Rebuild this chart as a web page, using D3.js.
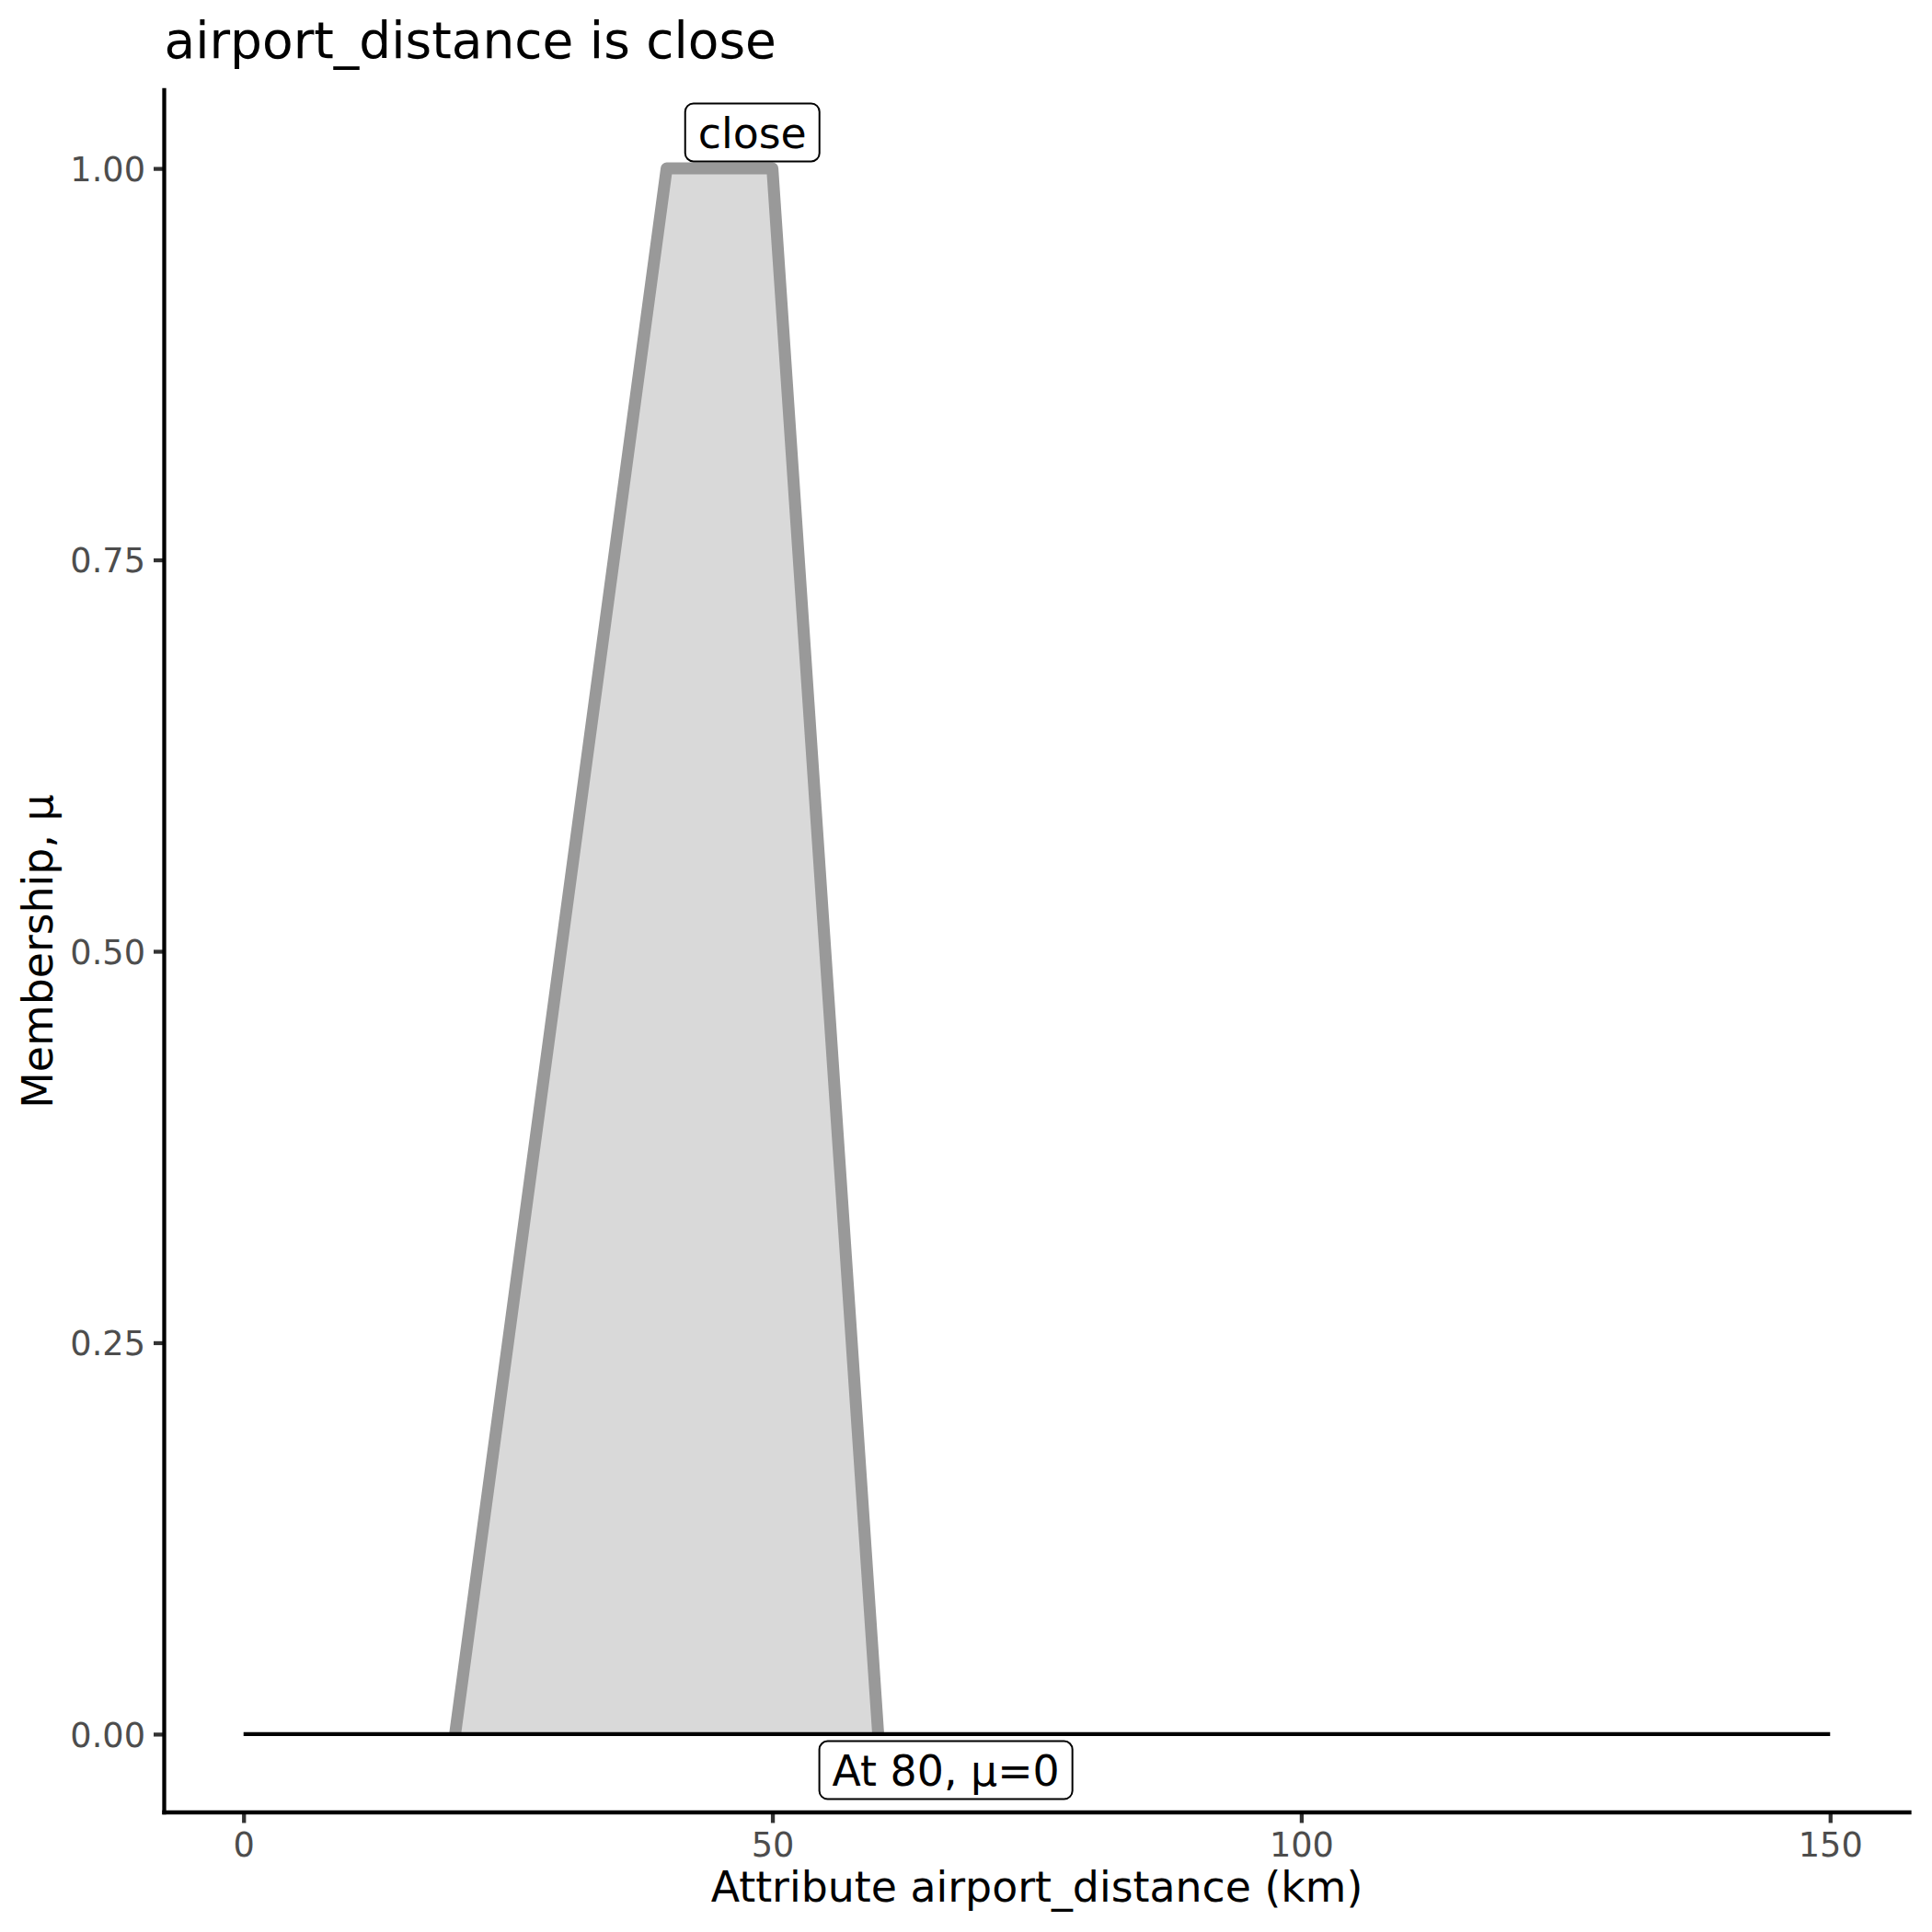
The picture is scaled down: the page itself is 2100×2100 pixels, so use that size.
<!DOCTYPE html>
<html>
<head>
<meta charset="utf-8">
<script src="https://cdn.jsdelivr.net/npm/d3@7"></script>
<style>
  html, body { margin: 0; padding: 0; background: #fff; }
  svg { display: block; font-family: "DejaVu Sans", sans-serif; }
</style>
</head>
<body>
<svg id="chart" width="2100" height="2100"></svg>
<script>
// ---- data ----
const titleText = "airport_distance is close";
const xTitle = "Attribute airport_distance (km)";
const yTitle = "Membership, \u03bc";
const setX = [20, 40, 50, 60];      // trapezoid corners (km)
const setMu = [0, 1, 1, 0];          // membership at corners
const baseX = [0, 150];              // universe of discourse
const baseMu = [0, 0];
const xTicks = [0, 50, 100, 150];
const yTicks = [0, 0.25, 0.5, 0.75, 1];
const yTickLabels = ["0.00", "0.25", "0.50", "0.75", "1.00"];
const labelTexts = ["close", "At 80, \u03bc=0"];
const labelX = [48.1, 66.4];        // label centres (data units)
const labelY = [1.023, -0.023];

// ---- layout ----
const W = 2100, H = 2100;
const panel = { left: 178.5, right: 2075.5, top: 98, bottom: 1970 };
const svg = d3.select("#chart");

const xMin = 0, xMax = 150, yMin = 0, yMax = 1;
const xPad = (xMax - xMin) * 0.05, yPad = (yMax - yMin) * 0.05;
const x = d3.scaleLinear().domain([xMin - xPad, xMax + xPad]).range([panel.left, panel.right]);
const y = d3.scaleLinear().domain([yMin - yPad, yMax + yPad]).range([panel.bottom, panel.top]);

// ---- membership shape ----
const pts = setX.map((v, i) => [v, setMu[i]]);
const area = d3.area().x(d => x(d[0])).y0(y(0)).y1(d => y(d[1]));
svg.append("path").datum(pts).attr("d", area).attr("fill", "#D9D9D9").attr("stroke", "none");
const line = d3.line().x(d => x(d[0])).y(d => y(d[1]));
svg.append("path").datum(pts).attr("d", line)
  .attr("fill", "none").attr("stroke", "#999999").attr("stroke-width", 13)
  .attr("stroke-linejoin", "round").attr("stroke-linecap", "butt");

// baseline
const bpts = baseX.map((v, i) => [v, baseMu[i]]);
svg.append("path").datum(bpts).attr("d", line)
  .attr("fill", "none").attr("stroke", "#000").attr("stroke-width", 4.3);

// ---- axes ----
const tickLen = 11.5;
const xAxis = d3.axisBottom(x).tickValues(xTicks).tickSize(tickLen).tickPadding(9).tickFormat(d3.format("d"));
const gx = svg.append("g").attr("transform", `translate(0,${panel.bottom})`).call(xAxis);
gx.select(".domain").remove();
gx.selectAll(".tick line").attr("stroke", "#333333").attr("stroke-width", 4.3);
gx.selectAll(".tick text").attr("fill", "#4D4D4D").attr("font-size", 36.7)
  .attr("font-family", "DejaVu Sans").attr("dy", "0.76em");

const yAxis = d3.axisLeft(y).tickValues(yTicks).tickSize(tickLen).tickPadding(9)
  .tickFormat((d, i) => yTickLabels[i]);
const gy = svg.append("g").attr("transform", `translate(${panel.left},0)`).call(yAxis);
gy.select(".domain").remove();
gy.selectAll(".tick line").attr("stroke", "#333333").attr("stroke-width", 4.3);
gy.selectAll(".tick text").attr("fill", "#4D4D4D").attr("font-size", 36.7)
  .attr("font-family", "DejaVu Sans").attr("dy", "0.36em");

// axis lines (theme_classic)
svg.append("line").attr("x1", panel.left).attr("x2", panel.right)
  .attr("y1", panel.bottom).attr("y2", panel.bottom)
  .attr("stroke", "#000").attr("stroke-width", 4.3).attr("stroke-linecap", "square");
svg.append("line").attr("x1", panel.left).attr("x2", panel.left)
  .attr("y1", panel.top).attr("y2", panel.bottom)
  .attr("stroke", "#000").attr("stroke-width", 4.3).attr("stroke-linecap", "square");

// ---- labels ----
labelTexts.forEach((t, i) => {
  const g = svg.append("g");
  const cx = x(labelX[i]), cy = y(labelY[i]);
  const txt = g.append("text").text(t).attr("font-size", 45.8).attr("fill", "#000")
    .attr("text-anchor", "middle").attr("x", cx).attr("y", cy + 16.8);
  const tw = txt.node().getComputedTextLength();
  const bw = tw + 2 * 14, bh = 63;
  g.insert("rect", "text").attr("x", cx - bw / 2).attr("y", cy - bh / 2)
    .attr("width", bw).attr("height", bh).attr("rx", 9).attr("ry", 9)
    .attr("fill", "#fff").attr("stroke", "#000").attr("stroke-width", 2);
});

// ---- titles ----
svg.append("text").text(titleText).attr("x", panel.left).attr("y", 63)
  .attr("font-size", 55).attr("fill", "#000");
svg.append("text").text(xTitle).attr("x", (panel.left + panel.right) / 2).attr("y", 2067)
  .attr("text-anchor", "middle").attr("font-size", 45.8).attr("fill", "#000");
svg.append("text").text(yTitle)
  .attr("transform", `translate(57,${(panel.top + panel.bottom) / 2}) rotate(-90)`)
  .attr("text-anchor", "middle").attr("font-size", 45.8).attr("fill", "#000");
</script>
</body>
</html>
